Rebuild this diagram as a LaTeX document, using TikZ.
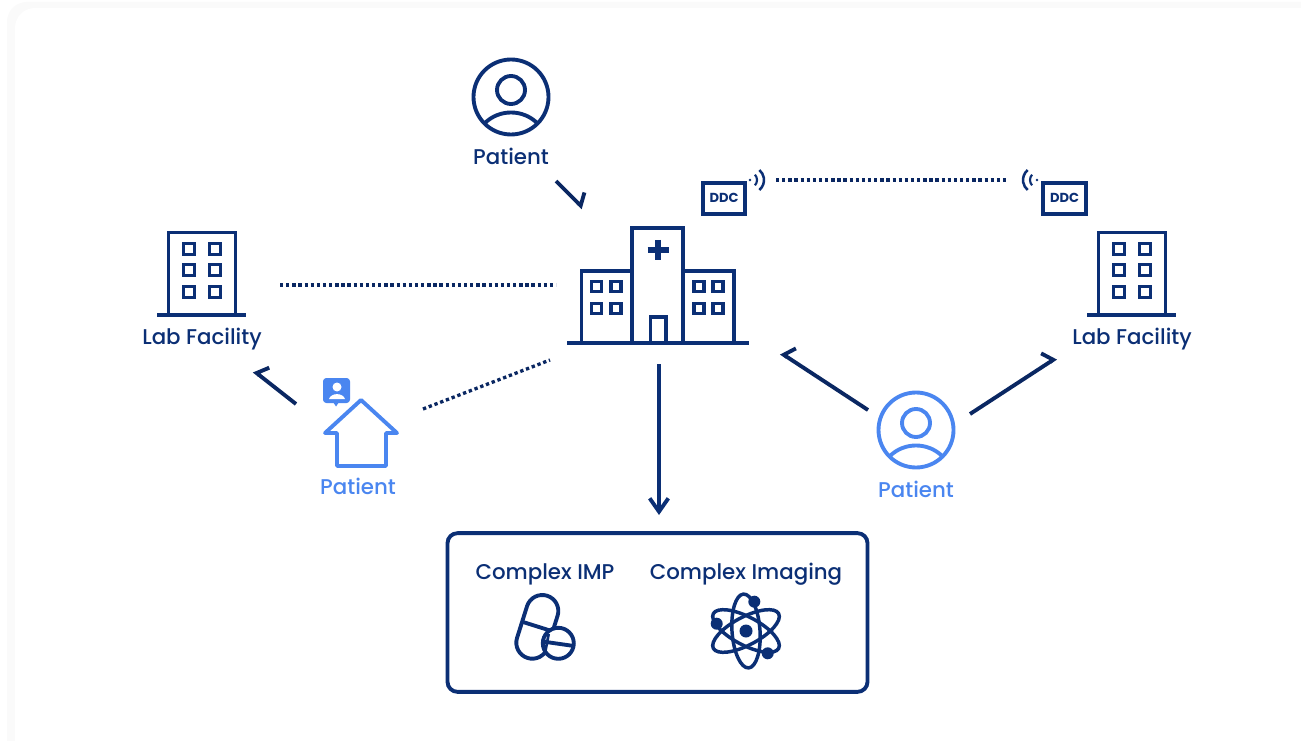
\documentclass[tikz,border=0pt]{standalone}
\usepackage{fontspec}
\setmainfont{Poppins Medium}[BoldFont=Poppins Bold]
\usetikzlibrary{arrows.meta,positioning,calc}
\definecolor{navy}{HTML}{0B2F75}
\definecolor{darknavy}{HTML}{0A2762}
\definecolor{lightblue}{HTML}{4A86F0}
\definecolor{cardedge}{HTML}{FAFAFA}

\begin{document}
\begin{tikzpicture}[x=0.75pt,y=0.75pt,
	icon/.style={line width=2.9pt,draw=navy},
	label/.style={font=\fontsize{16pt}{18pt}\selectfont,text=navy,inner sep=0pt,anchor=base},
	dotline/.style={line width=2.5pt,darknavy,dash pattern=on 2.5pt off 2.1pt},
	halfl/.style={line width=2.9pt,darknavy,-{Straight Barb[left,length=5pt,width=18pt]}},
	halfr/.style={line width=2.9pt,darknavy,-{Straight Barb[right,length=5pt,width=18pt]}},
	ddc/.style={draw=navy,line width=2.9pt,minimum width=31.8pt,minimum height=23pt,inner sep=0pt,font=\fontsize{9.8pt}{10pt}\selectfont\bfseries,text=navy}]
	\useasboundingbox (0,0) rectangle (1301,-741);
	\fill[white] (0,0) rectangle (1301,-741);
	\fill[cardedge,rounded corners=15pt] (7,-2) rectangle (1340,-780);
	\fill[white,rounded corners=15pt] (15,-8) rectangle (1340,-780);
	% people with a circle
	\foreach \px/\py/\col in {511/97/navy,916/430/lightblue}{
		\draw[icon,draw=\col] (\px,-\py) circle[radius=37.5];
		\draw[icon,draw=\col] (\px,-\py+7) circle[radius=14];
		\draw[icon,draw=\col] (\px-26,-\py-26) .. controls (\px-12,-\py-12) and (\px+12,-\py-12) .. (\px+26,-\py-26);
	}
	\node[label] (patienttop) at (511,-165) {Patient};
	\node[label,text=lightblue] (patientright) at (916,-497) {Patient};
	\node[label,text=lightblue] (patienthome) at (358,-494) {Patient};
	% hospital
	\draw[icon] (581.5,-343) -- (581.5,-271) -- (632,-271) -- (632,-228) -- (683,-228) -- (683,-271) -- (734,-271) -- (734,-343);
	\draw[icon] (632,-271) -- (632,-343);
	\draw[icon] (683,-271) -- (683,-343);
	\draw[icon] (567,-343) -- (749,-343);
	\draw[icon] (650.5,-343) -- (650.5,-317) -- (666,-317) -- (666,-343);
	\draw[line width=4pt,navy] (647.5,-250) -- (668.5,-250);
	\draw[line width=4pt,navy] (658,-240) -- (658,-260);
	\foreach \wx in {596.5,616,698.7,718}
		\foreach \wy in {286.5,308.5}
			\draw[icon] (\wx-5,-\wy-5) rectangle (\wx+5,-\wy+5);
	% lab buildings
	\foreach \bx in {0,930}{
		\draw[icon] (\bx+168.5,-315) -- (\bx+168.5,-232.5) -- (\bx+235.5,-232.5) -- (\bx+235.5,-315);
		\draw[icon] (\bx+157,-315) -- (\bx+246,-315);
		\foreach \wx in {189,215}
			\foreach \wy in {249,270,292}
				\draw[icon] (\bx+\wx-5.5,-\wy-5.5) rectangle (\bx+\wx+5.5,-\wy+5.5);
	}
	\node[label] (lableft) at (202,-344) {Lab Facility};
	\node[label] (labright) at (1132,-344) {Lab Facility};
	% ddc boxes
	\node[ddc] (ddcleft) at (724.2,-198.3) {DDC};
	\node[ddc] (ddcright) at (1064.5,-198.3) {DDC};
	\fill[navy] (750,-180) circle[radius=1.3];
	\draw[line width=1.6pt,navy] ($(749,-180)+(-42:8)$) arc[start angle=-42,end angle=42,radius=8];
	\draw[line width=1.9pt,navy] ($(751,-180)+(-50:13)$) arc[start angle=-50,end angle=50,radius=13];
	\fill[navy] (1037,-180) circle[radius=1.3];
	\draw[line width=1.6pt,navy] ($(1038,-180)+(138:8)$) arc[start angle=138,end angle=222,radius=8];
	\draw[line width=1.9pt,navy] ($(1036,-180)+(130:13)$) arc[start angle=130,end angle=230,radius=13];
	% home
	\draw[icon,draw=lightblue,line join=round] (361,-400) -- (397,-433) -- (386,-433) -- (386,-466) -- (337,-466) -- (337,-433) -- (325,-433) -- cycle;
	\fill[lightblue,rounded corners=2.5pt] (323,-378) rectangle (350,-403);
	\fill[lightblue] (333,-402) -- (339,-402) -- (336,-406.5) -- cycle;
	\fill[white] (337,-387) circle[radius=4.5];
	\fill[white] (329,-399) .. controls (331,-392.5) and (343,-392.5) .. (345,-399) -- cycle;
	% box
	\node[draw=navy,line width=2.9pt,rounded corners=7.5pt,minimum width=315pt,minimum height=119pt,inner sep=0pt] (complexbox) at (657.5,-612.5) {};
	\node[label] (imp) at (545,-579) {Complex IMP};
	\node[label] (imaging) at (746,-579) {Complex Imaging};
	% pill
	\draw[icon] ($(542.3,-611)+(-17.5:16)$) arc[start angle=-17.5,end angle=162.5,radius=16] -- ($(532.3,-642.7)+(162.5:16)$) arc[start angle=162.5,end angle=342.5,radius=16] -- cycle;
	\draw[icon] (523,-622) -- (550,-630.5);
	\draw[icon,fill=white] (558.3,-643.3) circle[radius=15.5];
	\draw[icon] (544,-641.7) -- (572,-645.7);
	\draw[line width=2pt,navy] (548.7,-634) -- (545.3,-651.7);
	% atom
	\foreach \ang in {28,94,152}
		\draw[line width=2.6pt,navy,rotate around={\ang:(746,-631)}] (746,-631) ellipse[x radius=37,y radius=14];
	\fill[navy] (746,-631) circle[radius=6.5];
	\foreach \ex/\ey in {754.3/601.7,716.7/623.7,767.7/653.3}
		\fill[navy] (\ex,-\ey) circle[radius=6];
	% connectors
	\coordinate (a1) at (556,-181);
	\coordinate (a2) at (583,-208);
	\coordinate (b1) at (296,-404);
	\coordinate (b2) at (254,-371);
	\coordinate (c1) at (868,-410);
	\coordinate (c2) at (781,-353);
	\coordinate (d1) at (970,-414);
	\coordinate (d2) at (1056,-358);
	\coordinate (e1) at (659,-364);
	\coordinate (e2) at (659,-515);
	\coordinate (f1) at (280,-285);
	\coordinate (f2) at (556,-285);
	\coordinate (g1) at (423,-409);
	\coordinate (g2) at (550,-360);
	\coordinate (h1) at (776,-180);
	\coordinate (h2) at (1009,-180);
	\draw[halfl] (a1) -- (a2);
	\draw[halfr] (b1) -- (b2);
	\draw[halfr] (c1) -- (c2);
	\draw[halfl] (d1) -- (d2);
	\draw[line width=2.9pt,navy,-{Straight Barb[length=10pt,width=14pt]}] (e1) -- (e2);
	\draw[dotline] (f1) -- (f2);
	\draw[dotline] (g1) -- (g2);
	\draw[dotline] (h1) -- (h2);
\end{tikzpicture}
\end{document}
